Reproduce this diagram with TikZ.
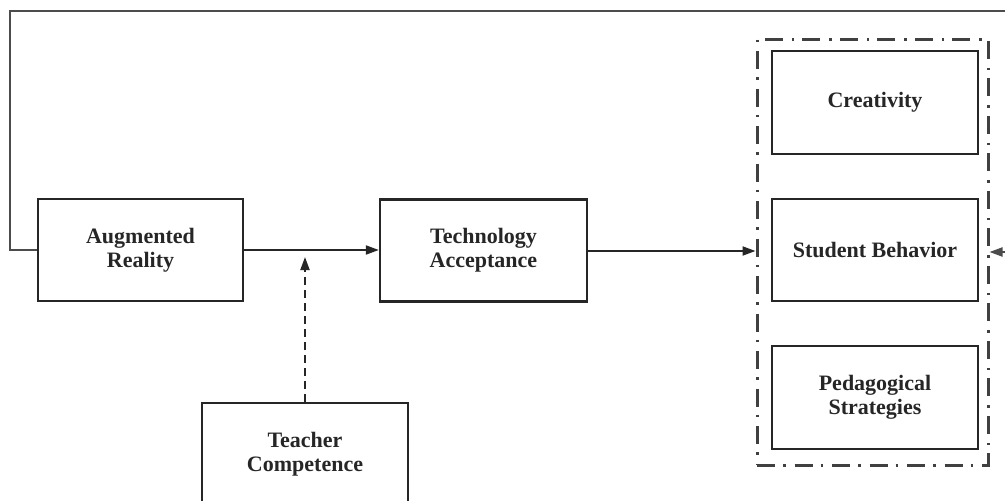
\documentclass[tikz,border=0pt]{standalone}
\usepackage{fontspec}
\setmainfont{Liberation Serif}
\usetikzlibrary{arrows.meta}
\begin{document}
\begin{tikzpicture}[x=1pt,y=-1pt,
  box/.style={draw=black!85, line width=2.3pt, minimum width=205pt, minimum height=102pt,
    align=center, font=\bfseries\fontsize{22}{24}\selectfont, text=black!85, inner sep=0pt},
  conn/.style={draw=black!85, line width=2pt},
  tip/.style={-{Triangle[length=13pt,width=9pt]}},
  grpbox/.style={draw=black!75, line width=3pt, dash pattern=on 18pt off 8pt on 2.5pt off 9pt,
    minimum width=231pt, minimum height=426pt, inner sep=0pt},
  modline/.style={draw=black!85, line width=2pt, dash pattern=on 8pt off 5pt}]
\clip (0,0) rectangle (1005,501);
\fill[white] (0,0) rectangle (1005,501);
\node[box] (ar) at (140.5,250) {Augmented\\Reality};
\node[box, minimum width=207pt] (ta) at (483.5,250.5) {Technology\\Acceptance};
\node[box, minimum width=206pt, minimum height=103pt] (tc) at (305,454.5) {Teacher\\Competence};
\node[grpbox] (grp) at (872.5,252) {};
\node[box, minimum width=206pt, minimum height=103pt] (cr) at (875,102.5) {Creativity};
\node[box, minimum width=206pt, minimum height=102pt] (sb) at (875,250) {Student Behavior};
\node[box, minimum width=206pt, minimum height=103pt] (ps) at (875,397.5) {Pedagogical\\Strategies};
\coordinate (m) at (305,257);
\coordinate (c1) at (10,250);
\coordinate (c2) at (10,11);
\coordinate (c3) at (1012,11);
\coordinate (c4) at (1012,252);
\draw[conn, tip] (ar.east) -- (ta.west |- ar.east);
\draw[conn, tip] (ta.east |- 0,251) -- (grp.west |- 0,251);
\draw[modline, tip] (tc.north) -- (m);
\draw[conn, draw=black!70, tip] (ar.west) -- (c1) -- (c2) -- (c3) -- (c4) -- (grp.east |- c4);
\end{tikzpicture}
\end{document}
